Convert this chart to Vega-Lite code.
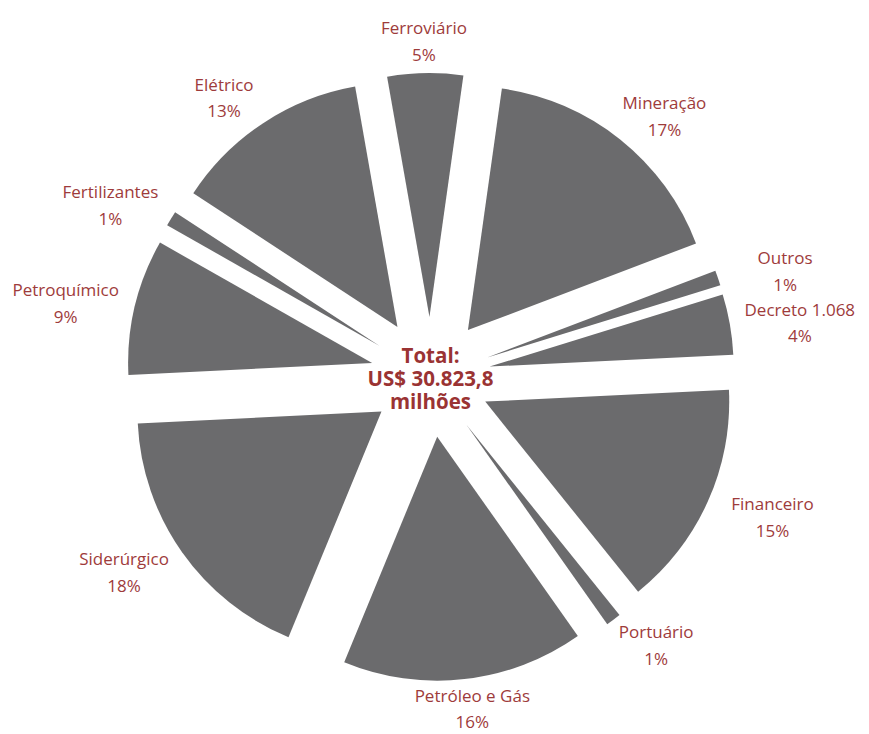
{
  "$schema": "https://vega.github.io/schema/vega-lite/v6.json",
  "width": 869,
  "height": 734,
  "padding": 0,
  "autosize": {"type": "none"},
  "background": "white",
  "config": {"view": {"stroke": null}},
  "data": {
    "values": [
      {"order": 1, "sector": "Ferroviário", "pct": 5},
      {"order": 2, "sector": "Mineração", "pct": 17},
      {"order": 3, "sector": "Outros", "pct": 1},
      {"order": 4, "sector": "Decreto 1.068", "pct": 4},
      {"order": 5, "sector": "Financeiro", "pct": 15},
      {"order": 6, "sector": "Portuário", "pct": 1},
      {"order": 7, "sector": "Petróleo e Gás", "pct": 16},
      {"order": 8, "sector": "Siderúrgico", "pct": 18},
      {"order": 9, "sector": "Petroquímico", "pct": 9},
      {"order": 10, "sector": "Fertilizantes", "pct": 1},
      {"order": 11, "sector": "Elétrico", "pct": 13}
    ]
  },
  "transform": [
    {"window": [{"op": "sum", "field": "pct", "as": "cum"}], "sort": [{"field": "order"}], "frame": [null, 0]},
    {"calculate": "(datum.cum - datum.pct) / 100 * 2 * PI - 10 * PI / 180", "as": "t0"},
    {"calculate": "datum.cum / 100 * 2 * PI - 10 * PI / 180", "as": "t1"},
    {"calculate": "(datum.t0 + datum.t1) / 2", "as": "tm"},
    {"calculate": "60 * sin(datum.tm)", "as": "ex"},
    {"calculate": "60 * cos(datum.tm)", "as": "ey"},
    {"calculate": "375 * sin(datum.tm)", "as": "lx"},
    {"calculate": "335 * cos(datum.tm) - 5 * pow(sin(datum.tm), 2)", "as": "ly"},
    {"calculate": "[datum.sector, datum.pct + '%']", "as": "lines"}
  ],
  "layer": [
    {
      "mark": {"type": "arc", "radius": 244, "color": "#6b6b6d"},
      "encoding": {
        "theta": {"field": "t0", "type": "quantitative", "scale": null},
        "theta2": {"field": "t1"},
        "x": {"field": "ex", "type": "quantitative", "scale": {"domain": [-430.5, 438.5], "nice": false, "zero": false}, "axis": null},
        "y": {"field": "ey", "type": "quantitative", "scale": {"domain": [-357, 377], "nice": false, "zero": false}, "axis": null}
      }
    },
    {
      "mark": {"type": "text", "font": "Open Sans", "fontSize": 17, "color": "#9e3b3b", "lineHeight": 26.5, "align": "center", "baseline": "middle", "dy": -13},
      "encoding": {
        "x": {"field": "lx", "type": "quantitative"},
        "y": {"field": "ly", "type": "quantitative"},
        "text": {"field": "lines"}
      }
    },
    {
      "data": {"values": [{"caption": ["Total:", "US$ 30.823,8", "milhões"]}]},
      "mark": {"type": "text", "font": "Open Sans", "fontSize": 20.5, "fontWeight": "bold", "color": "#9a3333", "lineHeight": 23, "align": "center", "baseline": "middle", "dy": -20},
      "encoding": {
        "x": {"datum": 0, "type": "quantitative"},
        "y": {"datum": 0, "type": "quantitative"},
        "text": {"field": "caption"}
      }
    }
  ]
}
